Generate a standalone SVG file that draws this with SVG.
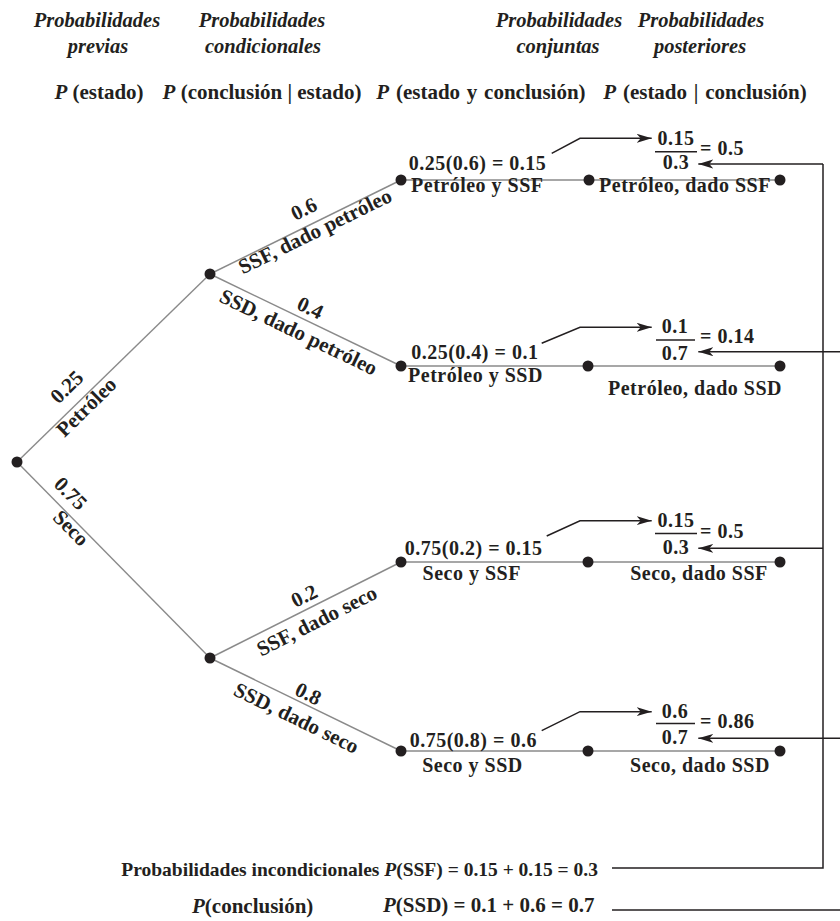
<svg xmlns="http://www.w3.org/2000/svg" width="840" height="921" viewBox="0 0 840 921">
<defs>
<style>
text{font-family:"Liberation Serif","Times New Roman",serif;font-weight:bold;font-size:21px;fill:#231f20}
.h{font-style:italic;font-size:20.5px}
.i{font-style:italic}
.m{text-anchor:middle}
.l{font-size:20px;letter-spacing:0.5px}
.edge{stroke:#8a8a8a;stroke-width:1.4;fill:none}
.arr{stroke:#231f20;stroke-width:1.5;fill:none}
.bar{stroke:#231f20;stroke-width:1.6}
.dot{fill:#231f20}
</style>
<marker id="ah" markerUnits="userSpaceOnUse" markerWidth="16" markerHeight="10" refX="15" refY="4.5" orient="auto">
<path d="M0,0 L15,4.5 L0,9 L4,4.5 z" fill="#231f20"/>
</marker>
</defs>
<rect width="840" height="921" fill="#fff"/>

<g id="headers">
<text class="h m" x="97" y="27">Probabilidades</text>
<text class="h m" x="98" y="53">previas</text>
<text class="h m" x="262" y="27">Probabilidades</text>
<text class="h m" x="263" y="53">condicionales</text>
<text class="h m" x="559" y="27">Probabilidades</text>
<text class="h m" x="558" y="53">conjuntas</text>
<text class="h m" x="701" y="27">Probabilidades</text>
<text class="h m" x="700" y="53">posteriores</text>
<text class="m" x="99" y="99"><tspan class="i">P</tspan> (estado)</text>
<text class="m" x="262" y="99"><tspan class="i">P</tspan> (conclusión | estado)</text>
<text class="m" x="481" y="99" word-spacing="1.5"><tspan class="i">P</tspan> (estado y conclusión)</text>
<text class="m" x="705" y="99" word-spacing="1.5"><tspan class="i">P</tspan> (estado | conclusión)</text>
</g>

<g id="connectors">
<path class="edge" d="M17,462 L210,274"/>
<path class="edge" d="M17,462 L210,658"/>
<path class="edge" d="M210,274 L401,180"/>
<path class="edge" d="M210,274 L401,366"/>
<path class="edge" d="M210,658 L401,562"/>
<path class="edge" d="M210,658 L401,751"/>
<path class="edge" d="M401,180 L780,180"/>
<path class="edge" d="M401,366 L780,366"/>
<path class="edge" d="M401,562 L780,562"/>
<path class="edge" d="M401,751 L780,751"/>
<path class="arr" d="M551.7,153.3 L580,138.3 L651.7,138.3" marker-end="url(#ah)"/>
<path class="arr" d="M541.7,343.3 L580,327.3 L651.7,327.3" marker-end="url(#ah)"/>
<path class="arr" d="M546.7,536 L580,520.7 L651.7,520.7" marker-end="url(#ah)"/>
<path class="arr" d="M541.7,730.7 L580,711.7 L651.7,711.7" marker-end="url(#ah)"/>
<path class="arr" d="M823,164 L698.3,164" marker-end="url(#ah)"/>
<path class="arr" d="M840,351.7 L698.3,351.7" marker-end="url(#ah)"/>
<path class="arr" d="M823,548.3 L698.3,548.3" marker-end="url(#ah)"/>
<path class="arr" d="M840,738.3 L698.3,738.3" marker-end="url(#ah)"/>
<path class="arr" d="M823,164 L823,868 L612,868"/>
<path class="arr" d="M612,910 L840,910"/>
</g>

<g id="root"><circle class="dot" cx="17" cy="462" r="5.5"/></g>

<g id="petroleo">
<circle class="dot" cx="210" cy="274" r="5.5"/>
<g transform="translate(80,400.6) rotate(-44.3)">
<text class="m" x="0" y="-12">0.25</text>
<text class="m" x="0" y="16">Petróleo</text>
</g>
</g>

<g id="seco">
<circle class="dot" cx="210" cy="658" r="5.5"/>
<text class="m" transform="translate(59.2,504.7) rotate(45.3)" x="0" y="-9">0.75</text>
<text class="m" transform="translate(76.8,522.4) rotate(45.3)" x="0" y="15">Seco</text>
</g>

<g id="ssf-petroleo">
<g transform="translate(311.4,224.1) rotate(-26.2)">
<text class="m" x="0" y="-10">0.6</text>
<text class="m" x="0" y="15">SSF, dado petróleo</text>
</g>
</g>

<g id="ssd-petroleo">
<g transform="translate(304.6,319.5) rotate(25.7)">
<text class="m" x="0" y="-6">0.4</text>
<text class="m" x="0" y="21">SSD, dado petróleo</text>
</g>
</g>

<g id="ssf-seco">
<g transform="translate(310,607.5) rotate(-26.8)">
<text class="m" x="0" y="-6">0.2</text>
<text class="m" x="0" y="22">SSF, dado seco</text>
</g>
</g>

<g id="ssd-seco">
<g transform="translate(303.5,703.6) rotate(26)">
<text class="m" x="0" y="-4">0.8</text>
<text class="m" x="0" y="23">SSD, dado seco</text>
</g>
</g>

<g id="row1">
<circle class="dot" cx="401" cy="180" r="5.5"/>
<circle class="dot" cx="589" cy="180" r="5.5"/>
<circle class="dot" cx="780" cy="180" r="5.5"/>
<text class="l m" x="477.5" y="169.5">0.25(0.6) = 0.15</text>
<text class="l m" x="477.3" y="192">Petróleo y SSF</text>
<text class="l m" x="685" y="192">Petróleo, dado SSF</text>
<text class="l m" x="676" y="145">0.15</text>
<line class="bar" x1="655" y1="151.7" x2="697" y2="151.7"/>
<text class="l m" x="676" y="169">0.3</text>
<text class="l" x="700" y="155">= 0.5</text>
</g>

<g id="row2">
<circle class="dot" cx="401" cy="366" r="5.5"/>
<circle class="dot" cx="588" cy="366" r="5.5"/>
<circle class="dot" cx="780" cy="366" r="5.5"/>
<text class="l m" x="474.8" y="359">0.25(0.4) = 0.1</text>
<text class="l m" x="475.5" y="382">Petróleo y SSD</text>
<text class="l m" x="695" y="395">Petróleo, dado SSD</text>
<text class="l m" x="675" y="333">0.1</text>
<line class="bar" x1="656" y1="340" x2="695" y2="340"/>
<text class="l m" x="675" y="360">0.7</text>
<text class="l" x="700" y="343">= 0.14</text>
</g>

<g id="row3">
<circle class="dot" cx="401" cy="562" r="5.5"/>
<circle class="dot" cx="588" cy="562" r="5.5"/>
<circle class="dot" cx="780" cy="562" r="5.5"/>
<text class="l m" x="473.7" y="555">0.75(0.2) = 0.15</text>
<text class="l m" x="471.7" y="580">Seco y SSF</text>
<text class="l m" x="699" y="580">Seco, dado SSF</text>
<text class="l m" x="676" y="527">0.15</text>
<line class="bar" x1="655" y1="533.5" x2="697" y2="533.5"/>
<text class="l m" x="676" y="553.5">0.3</text>
<text class="l" x="700" y="538">= 0.5</text>
</g>

<g id="row4">
<circle class="dot" cx="401" cy="751" r="5.5"/>
<circle class="dot" cx="588" cy="751" r="5.5"/>
<circle class="dot" cx="780" cy="751" r="5.5"/>
<text class="l m" x="473.3" y="746.5">0.75(0.8) = 0.6</text>
<text class="l m" x="472.5" y="771.5">Seco y SSD</text>
<text class="l m" x="700" y="771.5">Seco, dado SSD</text>
<text class="l m" x="675" y="718">0.6</text>
<line class="bar" x1="656" y1="723.5" x2="695" y2="723.5"/>
<text class="l m" x="675" y="743.5">0.7</text>
<text class="l" x="700" y="728">= 0.86</text>
</g>

<g id="totals">
<text x="598" y="876" style="font-size:19.5px;text-anchor:end">Probabilidades incondicionales <tspan class="i">P</tspan>(SSF) = 0.15 + 0.15 = 0.3</text>
<text x="192" y="913"><tspan class="i">P</tspan>(conclusión)</text>
<text x="383" y="912"><tspan class="i">P</tspan>(SSD) = 0.1 + 0.6 = 0.7</text>
</g>
</svg>
